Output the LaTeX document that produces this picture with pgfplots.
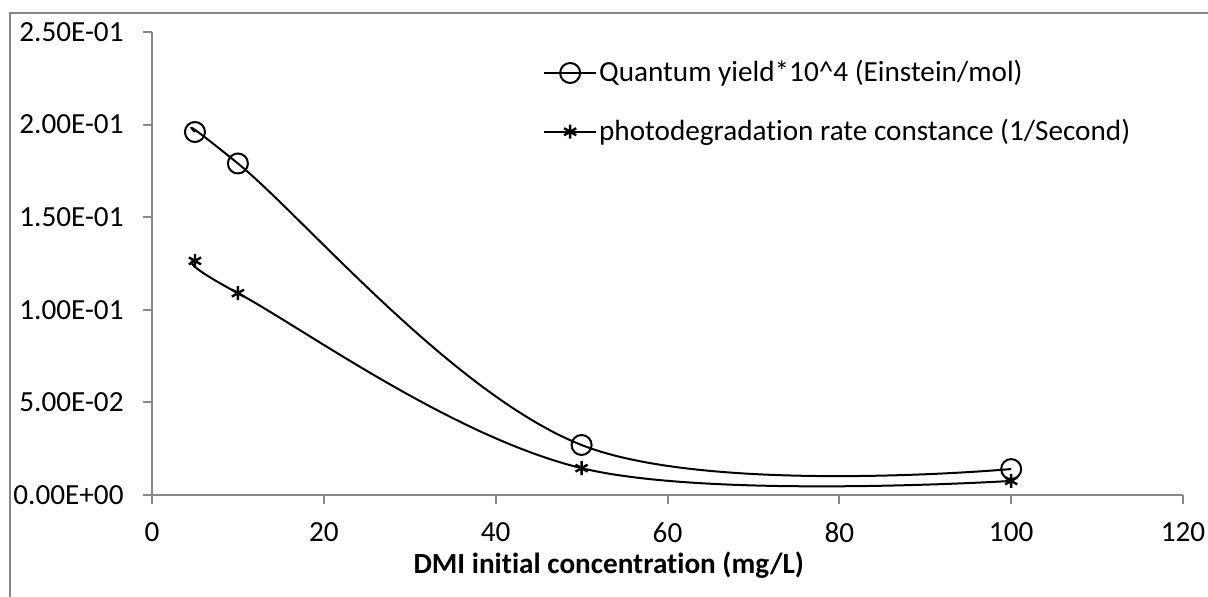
\documentclass[border=0pt]{standalone}
\usepackage{pgfplots}
\pgfplotsset{compat=1.18}
\usepackage{fontspec}
\setmainfont{Carlito}[Ligatures=NoCommon]
\definecolor{axgray}{HTML}{868686}
\begin{document}
\fontsize{14.6pt}{17pt}\selectfont
\begin{tikzpicture}
\useasboundingbox (0,0) rectangle (604pt,298.5pt);
\draw[axgray, line width=1pt] (5pt,0) -- (5pt,292pt) -- (604pt,292pt);
\begin{axis}[
  at={(76pt,51pt)}, anchor=south west,
  scale only axis, width=515.5pt, height=231.5pt,
  xmin=0, xmax=120, ymin=0, ymax=0.25,
  axis x line*=bottom, axis y line*=left,
  axis line style={axgray, line width=1pt},
  tick style={axgray, line width=1pt},
  tick align=outside, major tick length=4.5pt,
  xtick={0,20,40,60,80,100,120},
  ytick={0,0.05,0.1,0.15,0.2,0.25},
  yticklabels={0.00E+00,5.00E-02,1.00E-01,1.50E-01,2.00E-01,2.50E-01},
  /pgf/number format/assume math mode=true,
  ticklabel style={font=\fontsize{14.6pt}{17pt}\selectfont, text=black},
  yticklabel style={anchor=east, inner sep=0pt, xshift=-9.5pt},
  xticklabel style={anchor=north, inner sep=0pt, yshift=-9pt},
  xlabel={\textbf{DMI initial concentration (mg/L)}},
  xlabel style={at={(axis description cs:0.443,0)}, anchor=center, yshift=-35pt, font=\fontsize{14.6pt}{17pt}\selectfont},
  legend style={at={(axis description cs:0.379,0.848)}, anchor=west, draw=none, fill=none,
    inner sep=0pt, row sep=14.5pt, font=\fontsize{14.6pt}{17pt}\selectfont,
    legend cell align=left, nodes={inner sep=1pt, anchor=west}},
  legend image code/.code={%
    \draw[mark repeat=2, mark phase=2, #1] plot coordinates {(0pt,0pt) (13pt,0pt) (26pt,0pt)};},
  clip=false,
]
\addplot[black, line width=1pt, smooth, tension=0.6, mark=o, mark size=5pt, mark options={line width=1pt, solid}]
  coordinates {(5,0.196) (10,0.179) (50,0.027) (100,0.014)};
\addlegendentry{Quantum yield*10\^{}4 (Einstein/mol)}
\addplot[black, line width=1pt, smooth, tension=0.6, mark=asterisk, mark size=3.5pt, mark options={line width=1.2pt, solid}]
  coordinates {(5,0.1264) (10,0.109) (50,0.0145) (100,0.0076)};
\addlegendentry{photodegradation rate constance (1/Second)}
\end{axis}
\end{tikzpicture}
\end{document}
